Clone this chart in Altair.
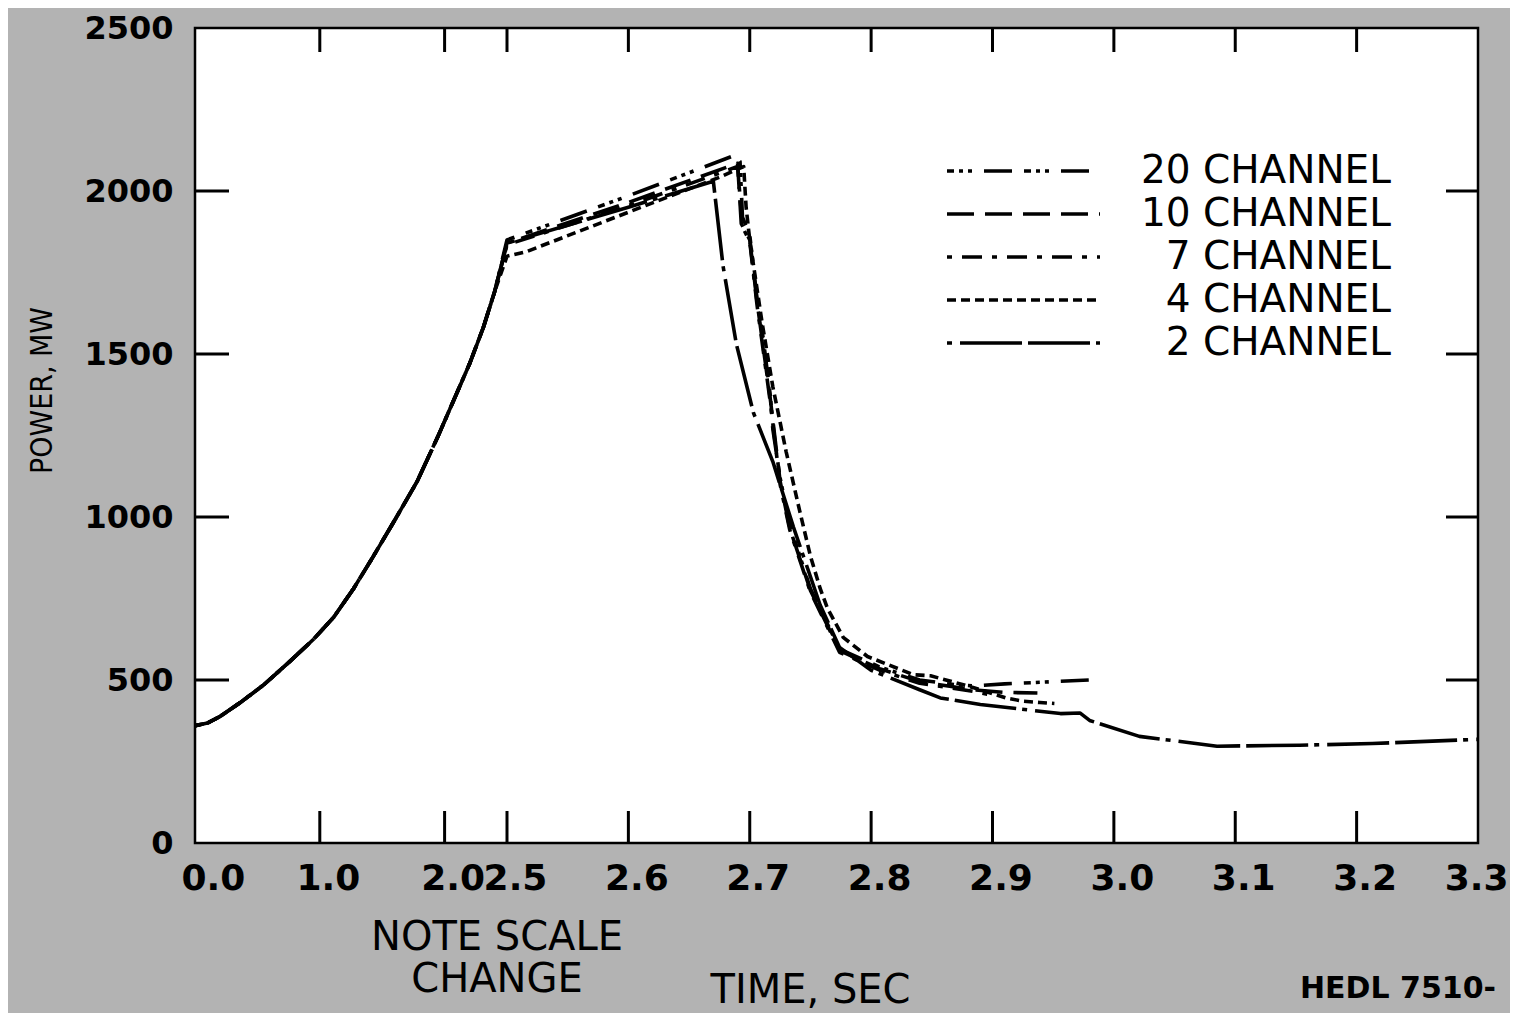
import altair as alt
import pandas as pd

# ---------------- data ----------------
SERIES = ["20 CHANNEL", "10 CHANNEL", "7 CHANNEL", "4 CHANNEL", "2 CHANNEL"]

# common rise before the scale change (all runs overlap)
RISE_T = [0.0, 0.1, 0.2, 0.36, 0.55, 0.76, 0.95, 1.11, 1.27, 1.43, 1.6, 1.78, 1.95, 2.1, 2.2, 2.31, 2.4]
RISE_P = [360, 368, 388, 430, 485, 557, 625, 692, 780, 880, 990, 1109, 1250, 1382, 1470, 1581, 1690]

CH20_T = [2.5, 2.6, 2.688, 2.692, 2.694, 2.7, 2.706, 2.711, 2.717, 2.719, 2.725, 2.733, 2.75, 2.774, 2.807, 2.84, 2.87, 2.884, 2.91, 2.95, 2.98]
CH20_P = [1850, 1985, 2110, 2090, 1920, 1865, 1670, 1550, 1370, 1270, 1120, 975, 780, 595, 540, 500, 485, 482, 488, 495, 500]

CH10_T = [2.5, 2.6, 2.69, 2.693, 2.7, 2.706, 2.717, 2.725, 2.733, 2.75, 2.774, 2.807, 2.84, 2.884, 2.91, 2.937]
CH10_P = [1840, 1965, 2085, 1900, 1850, 1660, 1360, 1110, 965, 775, 590, 535, 495, 470, 462, 460]

CH7_T = [2.5, 2.6, 2.69, 2.694, 2.7, 2.706, 2.717, 2.725, 2.733, 2.75, 2.774, 2.807, 2.84, 2.884, 2.898]
CH7_P = [1835, 1955, 2075, 1890, 1845, 1650, 1350, 1100, 960, 770, 585, 530, 490, 465, 455]

CH4_T = [2.5, 2.516, 2.6, 2.675, 2.695, 2.697, 2.7, 2.71, 2.719, 2.73, 2.741, 2.75, 2.758, 2.764, 2.777, 2.797, 2.835, 2.849, 2.884, 2.912, 2.925, 2.939, 2.951]
CH4_P = [1800, 1814, 1935, 2042, 2075, 1950, 1850, 1600, 1400, 1200, 1021, 880, 781, 720, 631, 572, 516, 513, 477, 444, 435, 431, 428]

CH2_T = [2.5, 2.6, 2.67, 2.678, 2.689, 2.703, 2.719, 2.736, 2.758, 2.774, 2.8, 2.84, 2.857, 2.89, 2.956, 2.972, 2.98, 3.021, 3.085, 3.153, 3.213, 3.299]
CH2_P = [1840, 1950, 2030, 1770, 1530, 1320, 1170, 969, 730, 600, 530, 470, 445, 425, 397, 399, 376, 327, 297, 300, 305, 318]

X_TICKS = [0.0, 1.0, 2.0, 2.5, 2.6, 2.7, 2.8, 2.9, 3.0, 3.1, 3.2, 3.3]
X_INNER = [1.0, 2.0, 2.5, 2.6, 2.7, 2.8, 2.9, 3.0, 3.1, 3.2]
Y_TICKS = [0, 500, 1000, 1500, 2000, 2500]
Y_INNER = [500, 1000, 1500, 2000]

DASHES = [[7, 5, 4, 5, 4, 12, 28, 12], [27, 11], [5, 10, 20, 10], [9, 5], [5, 8, 62, 6, 62, 6]]

# ---------------- build table ----------------
rows = []
tails = {
    "20 CHANNEL": (CH20_T, CH20_P),
    "10 CHANNEL": (CH10_T, CH10_P),
    "7 CHANNEL": (CH7_T, CH7_P),
    "4 CHANNEL": (CH4_T, CH4_P),
    "2 CHANNEL": (CH2_T, CH2_P),
}
for name in SERIES:
    tt, pp = tails[name]
    for t, p in zip(RISE_T + tt, RISE_P + pp):
        rows.append({"series": name, "t": t, "P": p})
df = pd.DataFrame(rows)

W, H = 1283, 815
xscale = alt.Scale(domain=[0, 2.5, 3.3], range=[0, 312, W], nice=False, zero=False)
yscale = alt.Scale(domain=[0, 2500], nice=False, zero=True)

xaxis = alt.Axis(
    values=X_TICKS, format=".1f", title="TIME, SEC",
    labelFont="DejaVu Sans", labelFontWeight="bold", labelFontSize=36, labelColor="black",
    labelPadding=18, labelOffset=8, labelOverlap=False, labelFlush=True, labelFlushOffset=22,
    labelBound=False,
    ticks=False, tickSize=0, domain=False, grid=False,
    titleFont="DejaVu Sans", titleFontSize=40, titleFontWeight="normal", titleColor="black",
    titleX=615, titleY=159, titleAlign="center", titleBaseline="alphabetic")
yaxis = alt.Axis(
    values=Y_TICKS, format="d", title="POWER, MW",
    labelFont="DejaVu Sans", labelFontWeight="bold", labelFontSize=32, labelColor="black",
    labelPadding=22, labelOverlap=False, labelFlush=False, labelBound=False,
    ticks=False, tickSize=0, domain=False, grid=False,
    titleFont="DejaVu Sans Condensed, DejaVu Sans", titleFontSize=30, titleFontWeight="normal",
    titleColor="black", titleAngle=270, titleX=-153, titleY=362, titleAlign="center",
    titleBaseline="middle")

X = alt.X("t:Q", scale=xscale, axis=xaxis)
Y = alt.Y("P:Q", scale=yscale, axis=yaxis)

lines = alt.Chart(df).mark_line(strokeWidth=3.6, color="black", strokeCap="butt", strokeJoin="round").encode(
    x=X, y=Y,
    strokeDash=alt.StrokeDash("series:N", scale=alt.Scale(domain=SERIES, range=DASHES),
        sort=SERIES,
        legend=alt.Legend(title=None, orient="none", legendX=750, legendY=123,
                          symbolType="stroke", symbolSize=23409, symbolStrokeWidth=3.6,
                          symbolStrokeColor="black", labelFont="DejaVu Sans", labelFontSize=39,
                          labelColor="black", labelAlign="right", labelOffset=289, labelLimit=0,
                          clipHeight=40, rowPadding=3, padding=0)),
    order=alt.Order("t:Q"),
)

ydf = pd.DataFrame({"P": Y_INNER})
xdf = pd.DataFrame({"t": X_INNER})

yl = alt.Chart(ydf).mark_rule(color="black", strokeWidth=3).encode(
    y=Y, x=alt.value(0), x2=alt.value(34))
yr = alt.Chart(ydf).mark_rule(color="black", strokeWidth=3).encode(
    y=Y, x=alt.value(W - 32), x2=alt.value(W))
xt = alt.Chart(xdf).mark_rule(color="black", strokeWidth=3).encode(
    x=X, y=alt.value(0), y2=alt.value(24))
xb = alt.Chart(xdf).mark_rule(color="black", strokeWidth=3).encode(
    x=X, y=alt.value(H - 32), y2=alt.value(H))

note = alt.Chart(pd.DataFrame({"a": [0]})).mark_text(
    text=["NOTE SCALE", "CHANGE"], font="DejaVu Sans", fontSize=40, lineHeight=42,
    baseline="top", align="center", color="black", dx=-10).encode(
    x=alt.datum(2.5, scale=xscale), y=alt.value(890))

hedl = alt.Chart(pd.DataFrame({"a": [0]})).mark_text(
    text="HEDL 7510-", font="DejaVu Sans", fontWeight="bold", fontSize=30,
    baseline="top", align="left", color="black").encode(
    x=alt.value(1105), y=alt.value(946))

chart = alt.layer(lines, yl, yr, xt, xb, note, hedl).properties(
    width=W, height=H, autosize="none",
    padding={"left": 187, "top": 20, "right": 32, "bottom": 170},
    background="#b3b3b3",
).configure_view(stroke="black", strokeWidth=2.5, fill="white")

chart.save("out.html", embed_options={"renderer": "svg", "actions": False})
